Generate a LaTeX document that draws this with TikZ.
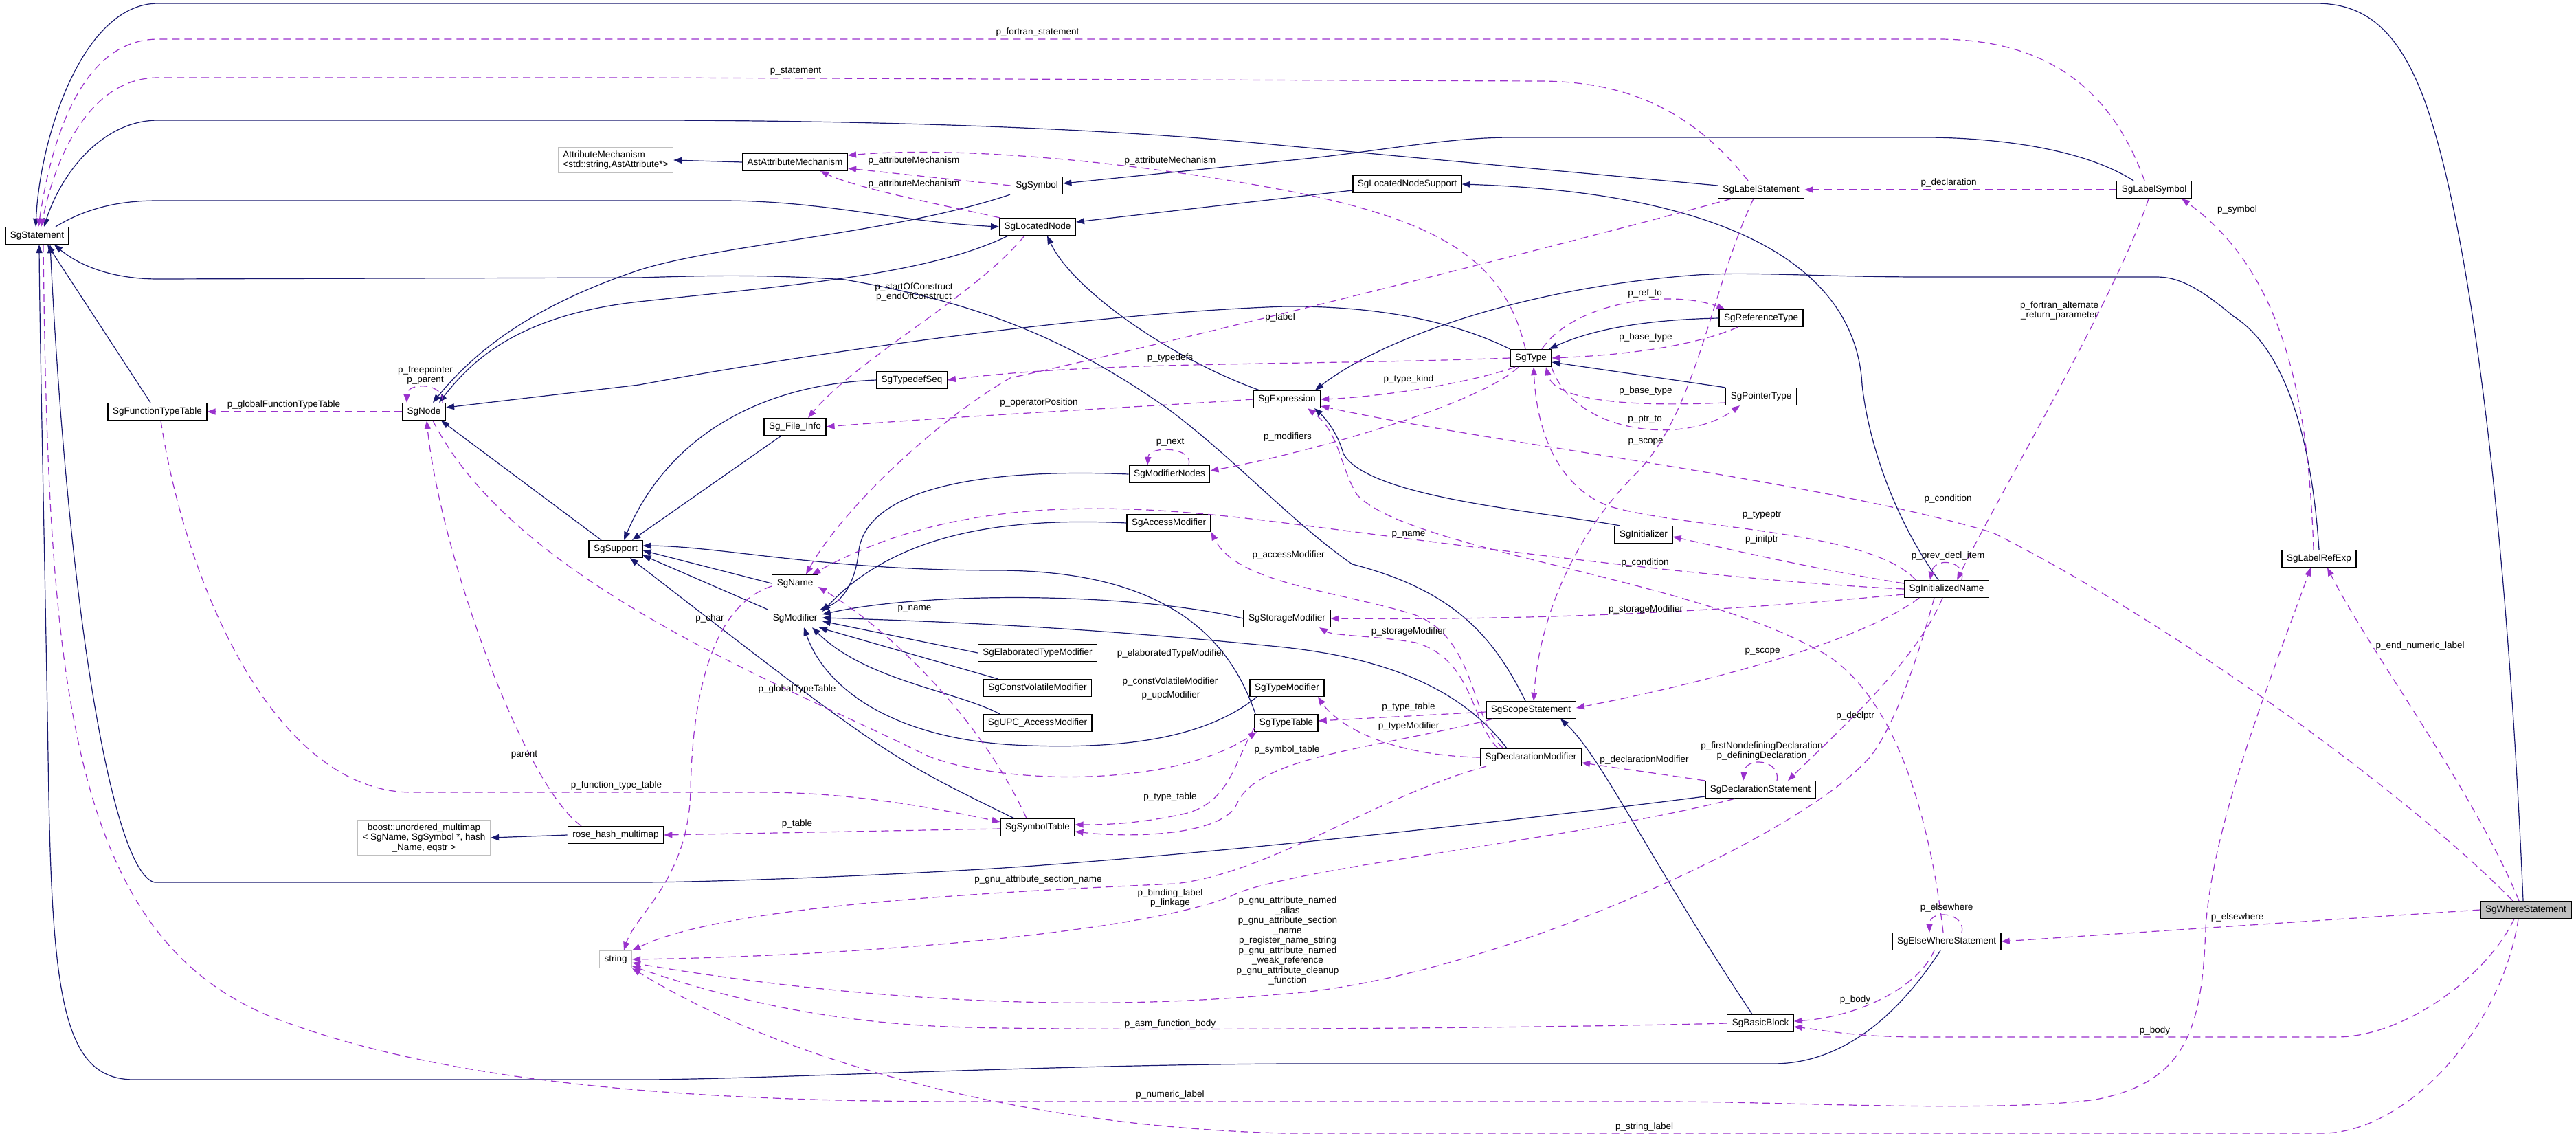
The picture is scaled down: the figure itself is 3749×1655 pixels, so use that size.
\documentclass[tikz,border=0pt]{standalone}
\usepackage{fontspec}
\setmainfont{Liberation Sans}
\usepackage{xcolor}
\usepackage{tikz}
\usetikzlibrary{arrows.meta}
\definecolor{navyedge}{HTML}{191970}
\definecolor{orchidedge}{HTML}{9A32CD}

\begin{document}
\begin{tikzpicture}[
  x=1pt, y=-1pt,
  every node/.style={font=\fontsize{13.5pt}{14.5pt}\selectfont},
  cls/.style ={rectangle, draw=black, line width=1.3pt, fill=white,
               minimum height=25pt, inner xsep=7pt, inner ysep=2pt},
  ext/.style ={cls, draw=black!25, inner ysep=5pt, align=center},
  root/.style={cls, fill=black!25},
  lbl/.style ={inner sep=1pt, align=center},
  inh/.style ={-{Triangle[length=12pt,width=9pt]}, navyedge, line width=1.2pt},
  use/.style ={-{Triangle[length=12pt,width=9pt]}, orchidedge, line width=1.2pt,
               dash pattern=on 11pt off 7pt}
]
\useasboundingbox (0,0) rectangle (3749,1655);
\fill[white] (0,0) rectangle (3749,1655);

\node[cls] (stmt) at (54,343) {SgStatement};
\node[ext, align=left] (attrmech) at (896,233) {AttributeMechanism\\<std::string,AstAttribute*>};
\node[cls] (astattr) at (1157,236) {AstAttributeMechanism};
\node[cls] (symbol) at (1509,270) {SgSymbol};
\node[cls] (locnode) at (1510,330) {SgLocatedNode};
\node[cls] (locsupp) at (2048,268) {SgLocatedNodeSupport};
\node[cls] (labelstmt) at (2563,276) {SgLabelStatement};
\node[cls] (labelsym) at (3135,276) {SgLabelSymbol};
\node[cls] (reftype) at (2563,463) {SgReferenceType};
\node[cls] (type) at (2228,521) {SgType};
\node[cls] (typedefseq) at (1327,553) {SgTypedefSeq};
\node[cls] (ptrtype) at (2563,577) {SgPointerType};
\node[cls] (expr) at (1873,581) {SgExpression};
\node[cls] (functt) at (229,599) {SgFunctionTypeTable};
\node[cls] (sgnode) at (617,599) {SgNode};
\node[cls] (fileinfo) at (1157,621) {Sg\_File\_Info};
\node[cls] (modnodes) at (1702,690) {SgModifierNodes};
\node[cls] (accmod) at (1701,761) {SgAccessModifier};
\node[cls] (initzer) at (2392,778) {SgInitializer};
\node[cls] (support) at (896,799) {SgSupport};
\node[cls] (labelref) at (3375,813) {SgLabelRefExp};
\node[cls] (sgname) at (1157,849) {SgName};
\node[cls] (initname) at (2833,857) {SgInitializedName};
\node[cls] (modifier) at (1157,900) {SgModifier};
\node[cls] (stormod) at (1873,900) {SgStorageModifier};
\node[cls] (elabmod) at (1510,950) {SgElaboratedTypeModifier};
\node[cls] (cvmod) at (1510,1001) {SgConstVolatileModifier};
\node[cls] (typemod) at (1873,1001) {SgTypeModifier};
\node[cls] (scopestmt) at (2228,1033) {SgScopeStatement};
\node[cls] (upcmod) at (1510,1052) {SgUPC\_AccessModifier};
\node[cls] (typetable) at (1872,1052) {SgTypeTable};
\node[cls] (declmod) at (2228,1102) {SgDeclarationModifier};
\node[cls] (declstmt) at (2562,1149) {SgDeclarationStatement};
\node[cls] (symtab) at (1510,1204) {SgSymbolTable};
\node[cls] (hashmap) at (896,1215) {rose\_hash\_multimap};
\node[ext] (boostmap) at (617,1219) {boost::unordered\_multimap\\< SgName, SgSymbol *, hash\\ \_Name, eqstr >};
\node[ext] (str) at (896,1396) {string};
\node[cls] (elsewhere) at (2833,1370) {SgElseWhereStatement};
\node[cls] (bblock) at (2562,1489) {SgBasicBlock};
\node[root] (where) at (3676,1324) {SgWhereStatement};

\draw[inh] ([xshift=-4pt]where.north) .. controls (3650,800) and (3600,350) .. (3530,150) .. controls (3490,40) and (3440,5) .. (3370,5) -- (230,5) .. controls (120,5) and (58,200) .. ([xshift=-2pt]stmt.north);
\draw[inh] ([yshift=6pt]labelstmt.west) -- (1860,211) .. controls (1600,185) and (1250,175) .. (930,175) -- (230,175) .. controls (150,175) and (90,250) .. ([xshift=10pt]stmt.north);
\draw[inh] ([xshift=-30pt]labelsym.north) .. controls (3030,215) and (2900,200) .. (2800,200) -- (2200,200) .. controls (2100,200) and (2000,222) .. (1870,234) -- ([yshift=3pt]symbol.east);
\draw[inh] ([yshift=-9pt]locsupp.west) -- ([yshift=7pt]locnode.east);
\draw[inh] ([xshift=-12pt]initname.north) .. controls (2760,760) and (2720,650) .. (2710,560) .. controls (2700,380) and (2500,280) .. (locsupp.east);
\draw[inh] ([xshift=-43pt]locnode.south) .. controls (1350,400) and (1150,415) .. (930,439) .. controls (760,458) and (690,520) .. ([xshift=22pt]sgnode.north);
\draw[inh] ([xshift=-39pt]symbol.south) .. controls (1300,340) and (1050,355) .. (930,393) .. controls (790,440) and (700,500) .. ([xshift=13pt]sgnode.north);
\draw[inh] ([xshift=27pt]stmt.north) .. controls (130,300) and (180,292) .. (230,292) -- (1050,292) .. controls (1200,292) and (1300,322) .. (locnode.west);
\draw[inh] ([xshift=-8pt]scopestmt.north) .. controls (2175,930) and (2120,860) .. (1968,821) .. controls (1880,760) and (1800,670) .. (1700,595) .. controls (1550,490) and (1420,440) .. (1230,407) .. controls (1100,398) and (1000,402) .. (930,404) -- (230,406) .. controls (170,406) and (120,390) .. ([xshift=25pt]stmt.south);
\draw[inh] ([xshift=-10pt]functt.north) -- ([xshift=15pt]stmt.south);
\draw[inh] ([yshift=-10pt]declstmt.west) .. controls (2200,1195) and (1700,1250) .. (1410,1266) .. controls (1200,1278) and (1000,1284) .. (930,1284) -- (225,1284) .. controls (165,1270) and (100,900) .. ([xshift=19pt]stmt.south);
\draw[inh] ([xshift=-9pt]elsewhere.south) .. controls (2780,1450) and (2700,1548) .. (2580,1548) -- (1870,1548) .. controls (1500,1550) and (1100,1571) .. (930,1571) -- (195,1571) .. controls (90,1571) and (75,1450) .. (70,1100) .. controls (65,800) and (58,500) .. ([xshift=3pt]stmt.south);
\draw[inh] ([xshift=-21pt]support.north) -- ([xshift=-7pt]sgnode.south east);
\draw[inh] (typedefseq.west) .. controls (1100,560) and (970,640) .. ([xshift=12pt]support.north);
\draw[inh] ([xshift=-20pt]fileinfo.south) -- ([xshift=24pt]support.north);
\draw[inh] ([xshift=-45pt]typetable.north) .. controls (1790,930) and (1700,830) .. (1450,830) .. controls (1200,830) and (1050,795) .. ([yshift=5pt]support.east);
\draw[inh] (sgname.west) -- ([yshift=-2pt]support.east);
\draw[inh] (modifier.north west) -- ([yshift=-9pt]support.east);
\draw[inh] ([xshift=-34pt]symtab.north) .. controls (1290,1100) .. ([xshift=21pt]support.south);
\draw[inh] (modnodes.west) .. controls (1400,680) and (1262,720) .. (1250,800) .. controls (1245,850) and (1225,875) .. ([xshift=-3pt]modifier.north east);
\draw[inh] (accmod.west) .. controls (1450,752) and (1300,780) .. ([yshift=10pt]modifier.east);
\draw[inh] (stormod.west) .. controls (1650,862) and (1350,860) .. ([yshift=6pt]modifier.east);
\draw[inh] ([xshift=-35pt]declmod.north) .. controls (2140,1020) and (2050,960) .. (1860,941) .. controls (1600,915) and (1400,905) .. ([yshift=1pt]modifier.east);
\draw[inh] (elabmod.west) -- ([yshift=-4pt]modifier.east);
\draw[inh] ([xshift=-58pt]cvmod.north) -- ([xshift=-5pt]modifier.south east);
\draw[inh] ([xshift=-55pt]upcmod.north) .. controls (1390,1005) and (1260,990) .. ([xshift=25pt]modifier.south);
\draw[inh] ([xshift=-44pt]typemod.south) .. controls (1760,1070) and (1650,1090) .. (1500,1085) .. controls (1300,1080) and (1200,1000) .. ([xshift=13pt]modifier.south);
\draw[inh] ([xshift=-40pt]expr.north) .. controls (1700,520) and (1560,420) .. ([xshift=14pt]locnode.south);
\draw[inh] ([xshift=-35pt]initzer.north) .. controls (2250,745) and (1990,725) .. (1955,660) .. controls (1945,625) and (1925,605) .. ([xshift=40pt]expr.south);
\draw[inh] (type.north west) .. controls (2100,460) and (1980,445) .. (1870,446) .. controls (1600,455) and (1200,510) .. (930,560) -- ([yshift=6pt]sgnode.east);
\draw[inh] (reftype.west) .. controls (2400,465) and (2320,478) .. ([xshift=-4pt]type.north east);
\draw[inh] (ptrtype.north west) -- ([yshift=-6pt]type.east);
\draw[inh] (labelref.north) .. controls (3365,650) and (3330,510) .. (3250,460) .. controls (3200,418) and (3170,403) .. (3139,403) -- (2800,403) .. controls (2650,403) and (2550,395) .. (2470,400) .. controls (2200,420) and (2000,500) .. ([xshift=41pt]expr.north);
\draw[inh] (hashmap.west) -- (boostmap.east);
\draw[inh] (astattr.west) -- (attrmech.east);
\draw[inh] ([xshift=-12pt]bblock.north) .. controls (2400,1250) and (2330,1100) .. ([xshift=43pt]scopestmt.south);

\draw[use] ([xshift=-14pt]labelsym.north) .. controls (3080,150) and (3000,57) .. (2820,57) -- (230,57) .. controls (120,57) and (75,200) .. ([xshift=2pt]stmt.north);
\draw[use] ([xshift=-19pt]labelstmt.north) .. controls (2470,170) and (2380,118) .. (2240,118) -- (930,113) -- (230,113) .. controls (130,113) and (80,230) .. ([xshift=6pt]stmt.north);
\draw[use] (labelsym.west) -- (labelstmt.east);
\draw[use] ([xshift=-8pt]labelsym.south) .. controls (3080,430) and (2920,700) .. ([xshift=15pt]initname.north);
\draw[use] ([xshift=-8pt]labelref.north) .. controls (3360,600) and (3330,400) .. ([xshift=40pt]labelsym.south);
\draw[use] (symbol.west) -- ([yshift=-9pt]astattr.east);
\draw[use] ([xshift=-55pt]locnode.north) .. controls (1380,300) and (1250,275) .. ([xshift=37pt]astattr.south);
\draw[use] ([xshift=-8pt]type.north) .. controls (2190,380) and (2100,320) .. (1860,275) .. controls (1650,236) and (1400,212) .. ([yshift=10pt]astattr.east);
\draw[use] ([xshift=-19pt]locnode.south) .. controls (1420,430) and (1250,520) .. ([xshift=19pt]fileinfo.north);
\draw[use] (expr.west) .. controls (1700,590) and (1400,605) .. (fileinfo.east);
\draw[use] (type.west) .. controls (1900,532) and (1600,525) .. (typedefseq.east);
\draw[use] ([xshift=-23pt]type.south) .. controls (2130,560) and (2000,578) .. (expr.east);
\draw[use] ([xshift=-18pt]type.south) .. controls (2150,590) and (1900,660) .. ([yshift=5pt]modnodes.east);
\draw[use] ([xshift=16pt]type.north) .. controls (2290,440) and (2430,420) .. ([xshift=9pt]reftype.north west);
\draw[use] ([xshift=-34pt]reftype.south) .. controls (2450,510) and (2330,518) .. (type.east);
\draw[use] ([yshift=-9pt]ptrtype.west) .. controls (2380,592) and (2262,585) .. ([xshift=22pt]type.south);
\draw[use] ([xshift=30pt]type.south) .. controls (2290,630) and (2450,650) .. ([xshift=-31pt]ptrtype.south);
\draw[use] ([xshift=-45pt]initname.north) .. controls (2720,770) and (2450,770) .. (2340,736) .. controls (2262,705) and (2236,620) .. ([xshift=4pt]type.south);
\draw[use] ([yshift=8pt]initname.west) .. controls (2650,830) and (2520,800) .. ([yshift=-3pt]initzer.east);
\draw[use] (initname.west) .. controls (2500,845) and (2100,790) .. (1870,761) .. controls (1650,733) and (1400,715) .. ([xshift=25pt]sgname.north);
\draw[use] ([yshift=-8pt]initname.west) .. controls (2550,885) and (2300,903) .. (stormod.east);
\draw[use] ([xshift=-40pt]initname.south) .. controls (2700,940) and (2450,1000) .. ([yshift=3pt]scopestmt.east);
\draw[use] ([xshift=-6pt]initname.south) .. controls (2790,960) and (2680,1060) .. ([xshift=40pt]declstmt.north);
\draw[use] ([xshift=-18pt]initname.south) .. controls (2790,960) and (2760,1050) .. (2723,1100) .. controls (2620,1220) and (2150,1430) .. (1860,1447) .. controls (1500,1480) and (1150,1440) .. ([yshift=-5pt]str.east);
\draw[use] (where.west) -- (elsewhere.east);
\draw[use] ([xshift=22pt]elsewhere.north) .. controls (2862,1328) and (2808,1322) .. ([xshift=-25pt]elsewhere.north);
\draw[use] ([xshift=-17pt]where.south) .. controls (3620,1420) and (3500,1509) .. (3400,1509) -- (2800,1509) .. controls (2700,1509) and (2660,1500) .. ([yshift=-5pt]bblock.east);
\draw[use] ([xshift=-18pt]elsewhere.south) .. controls (2790,1440) and (2700,1480) .. ([yshift=3pt]bblock.east);
\draw[use] ([xshift=-10pt]where.north) .. controls (3600,1150) and (3450,950) .. ([xshift=12pt]labelref.south);
\draw[use] ([xshift=-19pt]where.north) .. controls (3500,1150) and (3150,900) .. (2900,775) .. controls (2650,700) and (2200,650) .. ([yshift=-10pt]expr.east);
\draw[use] ([xshift=-11pt]where.south) .. controls (3640,1500) and (3500,1649) .. (3380,1649) -- (1870,1649) .. controls (1500,1640) and (1150,1550) .. (str.south east);
\draw[use] ([xshift=9pt]stmt.south) .. controls (70,1000) and (100,1380) .. (420,1489) .. controls (700,1590) and (1100,1603) .. (1410,1603) -- (2424,1603) .. controls (2600,1603) and (2900,1620) .. (3050,1600) .. controls (3180,1575) and (3205,1500) .. (3210,1350) .. controls (3220,1200) and (3300,1000) .. ([xshift=-12pt]labelref.south);
\draw[use] ([xshift=5pt]functt.south) .. controls (270,850) and (400,1153) .. (600,1153) -- (1110,1153) .. controls (1250,1153) and (1380,1180) .. ([yshift=8pt]symtab.west);
\draw[use] (sgnode.west) -- (functt.east);
\draw[use] ([xshift=27pt]sgnode.north) .. controls (648,556) and (592,556) .. ([xshift=-25pt]sgnode.north);
\draw[use] ([xshift=13pt]sgnode.south) .. controls (750,850) and (1150,1000) .. (1350,1100) .. controls (1450,1140) and (1700,1150) .. ([xshift=-43pt]typetable.south);
\draw[use] ([xshift=-50pt]hashmap.north) .. controls (760,1140) and (640,800) .. ([xshift=4pt]sgnode.south);
\draw[use] ([yshift=-2pt]symtab.west) -- (hashmap.east);
\draw[use] ([xshift=-16pt]symtab.north) .. controls (1430,1050) and (1300,920) .. ([yshift=-5pt]sgname.east);
\draw[use] ([yshift=-4pt]sgname.west) .. controls (1040,880) and (1008,1000) .. (1005,1150) .. controls (1002,1280) and (925,1330) .. ([xshift=12pt]str.north);
\draw[use] ([yshift=-8pt]typetable.west) .. controls (1795,1110) and (1790,1170) .. (1720,1185) .. controls (1650,1200) and (1600,1200) .. ([yshift=4pt]symtab.east);
\draw[use] ([xshift=-55pt]scopestmt.south) .. controls (2000,1090) and (1830,1100) .. (1800,1170) .. controls (1780,1215) and (1650,1220) .. ([yshift=-6pt]symtab.east);
\draw[use] ([yshift=-3pt]scopestmt.west) -- ([yshift=3pt]typetable.east);
\draw[use] (declmod.west) .. controls (2030,1100) and (1950,1060) .. ([xshift=45pt]typemod.south);
\draw[use] ([xshift=-48pt]declmod.north) .. controls (2140,1050) and (2145,960) .. (2060,935) .. controls (2000,925) and (1940,925) .. ([xshift=47pt]stormod.south);
\draw[use] ([xshift=-40pt]declmod.north) .. controls (2140,1050) and (2150,930) .. (2060,895) .. controls (1950,860) and (1800,850) .. (accmod.south east);
\draw[use] ([xshift=-65pt]declmod.south) .. controls (2000,1160) and (1850,1270) .. (1710,1286) .. controls (1400,1300) and (1050,1320) .. (str.north east);
\draw[use] ([xshift=-37pt]declstmt.south) .. controls (2300,1220) and (1900,1260) .. (1800,1300) .. controls (1700,1350) and (1300,1390) .. (str.east);
\draw[use] (bblock.west) .. controls (2200,1497) and (1600,1500) .. (1410,1495) .. controls (1200,1490) and (1050,1450) .. ([yshift=-10pt]str.east);
\draw[use] ([xshift=24pt]declstmt.north) .. controls (2592,1105) and (2540,1100) .. ([xshift=-25pt]declstmt.north);
\draw[use] (declstmt.north west) -- ([yshift=-8pt]declmod.east);
\draw[use] ([xshift=28pt]modnodes.north) .. controls (1738,650) and (1672,648) .. ([xshift=-32pt]modnodes.north);
\draw[use] ([xshift=22pt]initname.north) .. controls (2862,815) and (2815,810) .. ([xshift=-24pt]initname.north);
\draw[use] ([xshift=-5pt]elsewhere.north) .. controls (2810,1200) and (2760,1000) .. (2640,943) .. controls (2450,840) and (2050,800) .. (1975,720) .. controls (1950,680) and (1950,630) .. ([xshift=30pt]expr.south);
\draw[use] ([xshift=-43pt]labelstmt.south) .. controls (2300,350) and (1700,500) .. (1470,550) .. controls (1350,620) and (1220,750) .. ([xshift=16pt]sgname.north);
\draw[use] ([xshift=-11pt]labelstmt.south) .. controls (2490,420) and (2470,600) .. (2380,690) .. controls (2290,780) and (2240,900) .. ([xshift=4pt]scopestmt.north);

\node[lbl] (lfort) at (1510,47) {p\_fortran\_statement};
\node[lbl] (lstmt) at (1158,104) {p\_statement};
\node[lbl] (lattr1) at (1330,234) {p\_attributeMechanism};
\node[lbl] (lattr2) at (1330,268) {p\_attributeMechanism};
\node[lbl] (lattr3) at (1703,234) {p\_attributeMechanism};
\node[lbl] (ldecl) at (2836,266) {p\_declaration};
\node[lbl] (lsym) at (3256,305) {p\_symbol};
\node[lbl] (lfalt) at (2997,452) {p\_fortran\_alternate\\ \_return\_parameter};
\node[lbl] (lsoc) at (1330,425) {p\_startOfConstruct\\p\_endOfConstruct};
\node[lbl] (llabel) at (1863,462) {p\_label};
\node[lbl] (lref) at (2394,427) {p\_ref\_to};
\node[lbl] (lbase1) at (2395,491) {p\_base\_type};
\node[lbl] (ltdefs) at (1703,521) {p\_typedefs};
\node[lbl] (ltkind) at (2050,552) {p\_type\_kind};
\node[lbl] (lbase2) at (2395,569) {p\_base\_type};
\node[lbl] (lopos) at (1512,586) {p\_operatorPosition};
\node[lbl] (lgft) at (413,589) {p\_globalFunctionTypeTable};
\node[lbl] (lfree) at (619,546) {p\_freepointer\\p\_parent};
\node[lbl] (lptr) at (2394,611) {p\_ptr\_to};
\node[lbl] (lmods) at (1874,636) {p\_modifiers};
\node[lbl] (lscope1) at (2395,643) {p\_scope};
\node[lbl] (lnext) at (1703,644) {p\_next};
\node[lbl] (lcond1) at (2835,726) {p\_condition};
\node[lbl] (ltptr) at (2564,750) {p\_typeptr};
\node[lbl] (lname1) at (2050,778) {p\_name};
\node[lbl] (liptr) at (2564,785) {p\_initptr};
\node[lbl] (lacc) at (1875,808) {p\_accessModifier};
\node[lbl] (lprev) at (2835,809) {p\_prev\_decl\_item};
\node[lbl] (lcond2) at (2394,819) {p\_condition};
\node[lbl] (lname2) at (1331,886) {p\_name};
\node[lbl] (lstor1) at (2395,887) {p\_storageModifier};
\node[lbl] (lchar) at (1033,900) {p\_char};
\node[lbl] (lstor2) at (2050,919) {p\_storageModifier};
\node[lbl] (lend) at (3522,940) {p\_end\_numeric\_label};
\node[lbl] (lscope2) at (2565,948) {p\_scope};
\node[lbl] (lelab) at (1704,951) {p\_elaboratedTypeModifier};
\node[lbl] (lcv) at (1703,992) {p\_constVolatileModifier};
\node[lbl] (lgtt) at (1160,1003) {p\_globalTypeTable};
\node[lbl] (lupc) at (1704,1012) {p\_upcModifier};
\node[lbl] (ltt1) at (2050,1029) {p\_type\_table};
\node[lbl] (ldptr) at (2700,1042) {p\_declptr};
\node[lbl] (ltmod) at (2050,1057) {p\_typeModifier};
\node[lbl] (lsymt) at (1873,1091) {p\_symbol\_table};
\node[lbl] (lfnd) at (2564,1093) {p\_firstNondefiningDeclaration\\p\_definingDeclaration};
\node[lbl] (lparent) at (763,1099) {parent};
\node[lbl] (ldmod) at (2393,1106) {p\_declarationModifier};
\node[lbl] (lftt) at (897,1143) {p\_function\_type\_table};
\node[lbl] (ltt2) at (1703,1160) {p\_type\_table};
\node[lbl] (ltable) at (1160,1199) {p\_table};
\node[lbl] (lsect) at (1511,1280) {p\_gnu\_attribute\_section\_name};
\node[lbl] (lbind) at (1703,1307) {p\_binding\_label\\p\_linkage};
\node[lbl] (lgnu) at (1874,1369) {p\_gnu\_attribute\_named\\ \_alias\\p\_gnu\_attribute\_section\\ \_name\\p\_register\_name\_string\\p\_gnu\_attribute\_named\\ \_weak\_reference\\p\_gnu\_attribute\_cleanup\\ \_function};
\node[lbl] (lelse1) at (2833,1321) {p\_elsewhere};
\node[lbl] (lelse2) at (3256,1335) {p\_elsewhere};
\node[lbl] (lbody1) at (2700,1455) {p\_body};
\node[lbl] (lasm) at (1703,1490) {p\_asm\_function\_body};
\node[lbl] (lbody2) at (3136,1500) {p\_body};
\node[lbl] (lnum) at (1703,1593) {p\_numeric\_label};
\node[lbl] (lstr) at (2393,1640) {p\_string\_label};
\end{tikzpicture}
\end{document}
